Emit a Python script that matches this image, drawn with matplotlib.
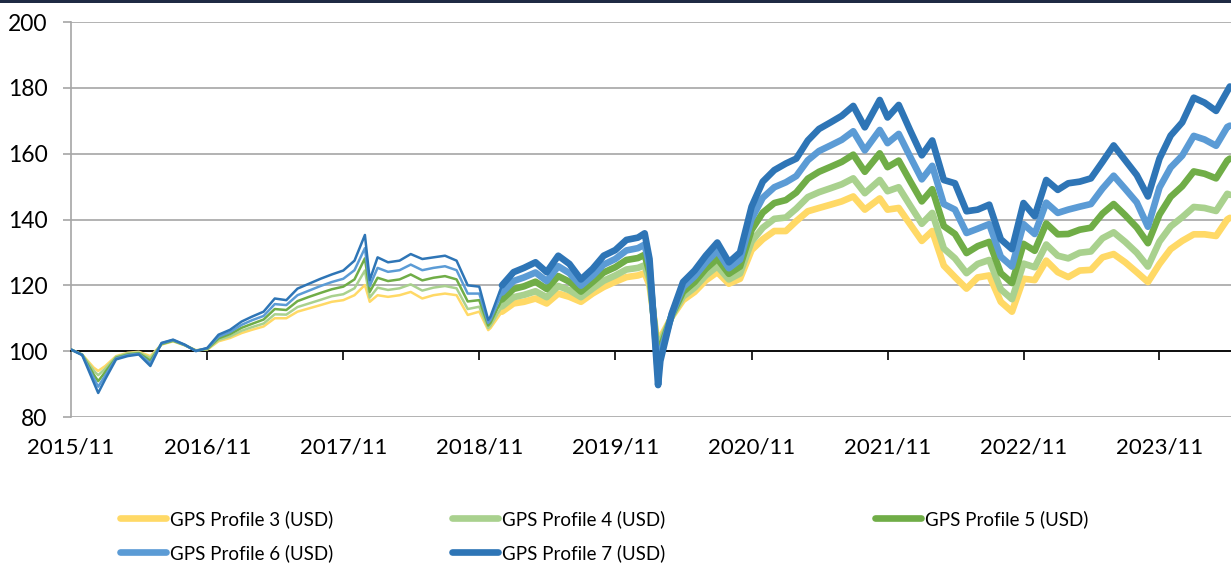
import matplotlib
matplotlib.use("Agg")
import matplotlib.pyplot as plt
import matplotlib.dates as mdates
from matplotlib.patches import Rectangle
import numpy as np
import pandas as pd

# dates (monthly, with a few extra points at the sharp turns)
dates = [
    "2015-11-01", "2015-12-01", "2016-01-01", "2016-01-13", "2016-02-01", "2016-03-01", "2016-04-01",
    "2016-05-01", "2016-06-01", "2016-07-01", "2016-08-01", "2016-09-01", "2016-10-01",
    "2016-11-01", "2016-12-01", "2017-01-01", "2017-02-01", "2017-03-01", "2017-04-01",
    "2017-05-01", "2017-06-01", "2017-07-01", "2017-08-01", "2017-09-01", "2017-10-01",
    "2017-11-01", "2017-12-01", "2017-12-29", "2018-01-11", "2018-02-01", "2018-03-01", "2018-04-01",
    "2018-05-01", "2018-06-01", "2018-07-01", "2018-08-01", "2018-09-01", "2018-10-01",
    "2018-11-01", "2018-11-25", "2018-12-01", "2019-01-01", "2019-02-01", "2019-03-01", "2019-04-01",
    "2019-05-01", "2019-06-01", "2019-07-01", "2019-08-01", "2019-09-01", "2019-10-01",
    "2019-11-01", "2019-12-01", "2020-01-01", "2020-01-19", "2020-02-01", "2020-02-24", "2020-03-01",
    "2020-04-01", "2020-05-01", "2020-06-01", "2020-07-01", "2020-08-01", "2020-09-01", "2020-10-01",
    "2020-11-01", "2020-12-01", "2021-01-01", "2021-02-01", "2021-03-01", "2021-04-01",
    "2021-05-01", "2021-06-01", "2021-07-01", "2021-08-01", "2021-09-01", "2021-10-11",
    "2021-11-01", "2021-12-01", "2022-01-01", "2022-02-01", "2022-03-01", "2022-04-01",
    "2022-05-01", "2022-06-01", "2022-07-01", "2022-08-01", "2022-09-01", "2022-10-01",
    "2022-11-01", "2022-12-01", "2023-01-01", "2023-02-01", "2023-03-01", "2023-04-01",
    "2023-05-01", "2023-06-01", "2023-07-01", "2023-08-01", "2023-09-01", "2023-10-01",
    "2023-11-01", "2023-12-01", "2024-01-01", "2024-02-01", "2024-03-01", "2024-04-01",
    "2024-05-01", "2024-05-08",
]

profile3 = [
    100.5, 99.0, 95.0, 94.0, 95.5, 98.5, 99.5, 99.8, 98.5, 102.0, 103.0, 101.8, 100.3,
    100.5, 103.0, 104.0, 105.5, 106.5, 107.5, 110.0, 110.0, 112.0, 113.0, 114.0, 115.0,
    115.5, 117.0, 120.1, 115.0, 117.0, 116.5, 117.0, 118.0, 116.0, 117.0, 117.5, 117.0, 111.0,
    112.0, 106.4, 107.0, 112.0, 114.5, 115.0, 116.0, 114.5, 117.5, 116.5, 115.0, 117.5, 119.5,
    121.1, 122.5, 123.0, 123.7, 120.0, 101.0, 104.0, 110.5, 115.5, 118.0, 121.5, 124.0, 120.5, 122.0,
    130.7, 134.0, 136.5, 136.5, 139.5, 142.5, 143.5, 144.5, 145.5, 147.0, 143.0, 146.4,
    143.0, 143.5, 138.5, 133.5, 136.5, 126.0, 122.5, 119.0, 122.4, 123.0, 115.0, 112.0,
    122.0, 121.6, 127.5, 124.0, 122.5, 124.5, 124.7, 128.5, 129.5, 127.0, 124.0, 121.0,
    126.5, 131.0, 133.5, 135.5, 135.5, 135.0, 140.0, 140.5,
]

profile4 = [
    100.5, 99.0, 94.1, 92.7, 94.7, 98.3, 99.3, 99.6, 97.9, 102.1, 103.1, 101.8, 100.2,
    100.6, 103.4, 104.5, 106.2, 107.3, 108.4, 111.2, 111.1, 113.4, 114.5, 115.6, 116.7,
    117.3, 119.1, 124.5, 116.3, 119.3, 118.6, 119.1, 120.3, 118.4, 119.3, 119.8, 119.1, 112.8,
    113.5, 107.0, 107.7, 113.6, 116.4, 117.1, 118.2, 116.4, 119.8, 118.5, 116.4, 119.0, 121.4,
    123.0, 124.8, 125.3, 126.1, 121.6, 98.7, 102.6, 110.7, 116.6, 119.3, 123.0, 125.8, 121.8, 123.6,
    133.3, 137.5, 140.2, 140.6, 143.3, 146.8, 148.3, 149.5, 150.7, 152.5, 148.0, 152.0,
    148.6, 149.8, 144.2, 138.7, 142.0, 131.2, 128.2, 123.7, 126.5, 127.7, 118.8, 115.8,
    126.6, 125.5, 132.4, 129.0, 128.2, 129.9, 130.3, 134.3, 136.1, 133.2, 129.9, 125.7,
    133.3, 137.9, 140.7, 143.8, 143.5, 142.6, 147.8, 147.5,
]

profile5 = [
    100.5, 98.9, 92.9, 90.9, 93.7, 98.0, 99.0, 99.4, 97.1, 102.2, 103.2, 101.9, 100.2,
    100.7, 103.9, 105.2, 107.1, 108.3, 109.6, 112.8, 112.5, 115.2, 116.5, 117.7, 118.8,
    119.6, 121.8, 128.2, 118.0, 122.3, 121.3, 121.8, 123.3, 121.5, 122.3, 122.8, 121.8, 115.1,
    115.5, 107.8, 108.6, 115.7, 118.9, 119.7, 121.1, 118.9, 122.8, 121.1, 118.1, 121.0, 123.9,
    125.5, 127.7, 128.3, 129.3, 123.7, 95.8, 100.8, 111.0, 118.0, 121.0, 125.0, 128.1, 123.5, 125.7,
    136.8, 142.1, 145.0, 145.9, 148.2, 152.4, 154.5, 156.0, 157.5, 159.7, 154.5, 160.1,
    155.9, 157.9, 151.6, 145.5, 149.2, 138.0, 135.6, 129.8, 131.9, 133.2, 123.7, 120.7,
    132.6, 130.5, 138.8, 135.5, 135.6, 136.9, 137.5, 141.8, 144.7, 141.3, 137.6, 132.8,
    141.5, 146.9, 150.1, 154.6, 153.9, 152.5, 157.9, 158.5,
]

profile6 = [
    100.5, 98.9, 91.8, 89.2, 92.6, 97.8, 98.8, 99.2, 96.3, 102.4, 103.4, 101.9, 100.1,
    100.9, 104.4, 105.8, 108.0, 109.4, 110.7, 114.3, 114.0, 117.0, 118.4, 119.8, 121.0,
    122.0, 124.6, 131.3, 119.8, 125.3, 124.1, 124.6, 126.3, 124.6, 125.3, 125.8, 124.6, 117.5,
    117.5, 108.6, 109.5, 117.8, 121.3, 122.4, 123.9, 121.3, 125.8, 123.7, 119.9, 122.9, 126.3,
    128.0, 130.6, 131.3, 132.4, 125.8, 92.9, 99.0, 111.2, 119.5, 122.7, 126.9, 130.5, 125.2, 127.8,
    140.2, 146.6, 149.8, 151.3, 153.2, 158.0, 160.8, 162.5, 164.2, 166.8, 161.0, 167.2,
    163.2, 166.0, 159.0, 152.2, 156.3, 144.7, 143.0, 135.9, 137.2, 138.6, 128.7, 125.7,
    138.6, 135.6, 145.1, 142.0, 143.0, 143.9, 144.7, 149.4, 153.3, 149.3, 145.2, 137.8,
    149.7, 155.8, 159.4, 165.4, 164.3, 162.4, 168.1, 168.5,
]

profile7 = [
    100.5, 98.8, 90.5, 87.3, 91.5, 97.5, 98.5, 99.0, 95.5, 102.5, 103.5, 102.0, 100.0,
    101.0, 105.0, 106.5, 109.0, 110.5, 112.0, 116.0, 115.5, 119.0, 120.5, 122.0, 123.3,
    124.5, 127.5, 135.3, 121.6, 128.5, 127.0, 127.5, 129.5, 128.0, 128.5, 129.0, 127.5, 120.0,
    119.6, 109.5, 110.5, 120.0, 124.0, 125.3, 127.0, 124.0, 129.0, 126.5, 121.8, 125.0, 129.0,
    130.7, 133.8, 134.5, 135.8, 128.0, 89.7, 97.0, 111.5, 121.0, 124.5, 129.0, 133.0, 127.0, 130.0,
    143.9, 151.5, 155.0, 157.0, 158.5, 164.0, 167.5, 169.5, 171.5, 174.5, 168.0, 176.3,
    171.0, 174.8, 167.0, 159.5, 164.0, 152.0, 151.0, 142.5, 143.0, 144.5, 134.0, 131.0,
    145.0, 141.0, 152.0, 149.0, 151.0, 151.5, 152.5, 157.5, 162.5, 158.0, 153.5, 147.0,
    158.5, 165.5, 169.5, 177.0, 175.5, 173.0, 179.0, 180.4,
]

labels = ["GPS Profile 3 (USD)", "GPS Profile 4 (USD)", "GPS Profile 5 (USD)",
          "GPS Profile 6 (USD)", "GPS Profile 7 (USD)"]
colors = ["#FFD966", "#A9D18E", "#70AD47", "#5B9BD5", "#2E75B6"]

plt.rcParams["font.family"] = ["Lato", "DejaVu Sans"]

d = pd.to_datetime(dates)
split = pd.Timestamp("2019-01-01")
thin = d <= split
thick = d >= split

W, H = 1231, 564
fig = plt.figure(figsize=(W / 100, H / 100), dpi=100)
ax = fig.add_axes([71 / W, 1 - 417 / H, 1 - 71 / W, (417 - 22) / H])

handles = []
for vals, color, lab in zip([profile3, profile4, profile5, profile6, profile7], colors, labels):
    v = np.array(vals)
    ax.plot(d[thin], v[thin], color=color, lw=1.8, zorder=3, solid_joinstyle="round")
    h, = ax.plot(d[thick], v[thick], color=color, lw=4.8, zorder=3,
                 solid_joinstyle="round", solid_capstyle="round", label=lab)
    handles.append(h)

ax.set_ylim(80, 200)
ax.set_yticks(range(80, 201, 20))
ax.set_xlim(pd.Timestamp("2015-11-01"), pd.Timestamp("2024-05-11"))
ax.set_xticks(pd.to_datetime([f"{y}-11-01" for y in range(2015, 2024)]))
ax.xaxis.set_major_formatter(mdates.DateFormatter("%Y/%m"))

ax.yaxis.grid(True, color="#a6a6a6", lw=1.2)
ax.set_axisbelow(True)
for s in ["top", "right"]:
    ax.spines[s].set_visible(False)
ax.spines["left"].set_color("#a6a6a6")
ax.spines["left"].set_linewidth(1.2)
ax.spines["bottom"].set_position(("data", 100))
ax.spines["bottom"].set_color("black")
ax.spines["bottom"].set_linewidth(1.3)

ax.tick_params(axis="y", direction="out", length=6, width=1.2, color="#a6a6a6",
               labelsize=16.5, pad=11, labelcolor="black")
ax.tick_params(axis="x", direction="out", length=6.5, width=1.2, color="black",
               labelsize=16, pad=56, labelcolor="black")

# legend in three columns placed like the original
leg_kw = dict(frameon=False, fontsize=13.5, handlelength=2.45, handletextpad=0.22,
              labelspacing=0.85, borderpad=0, borderaxespad=0, loc="upper left")
top = 1 - 510 / H
fig.legend([handles[0], handles[3]], [labels[0], labels[3]],
           bbox_to_anchor=(120 / W, top), **leg_kw)
fig.legend([handles[1], handles[4]], [labels[1], labels[4]],
           bbox_to_anchor=(452 / W, top), **leg_kw)
fig.legend([handles[2]], [labels[2]],
           bbox_to_anchor=(875 / W, top), **leg_kw)

fig.add_artist(Rectangle((0, 1 - 3 / H), 1, 3 / H, transform=fig.transFigure,
                         color="#1f2a44", lw=0))

fig.savefig("out.png", dpi=100)
